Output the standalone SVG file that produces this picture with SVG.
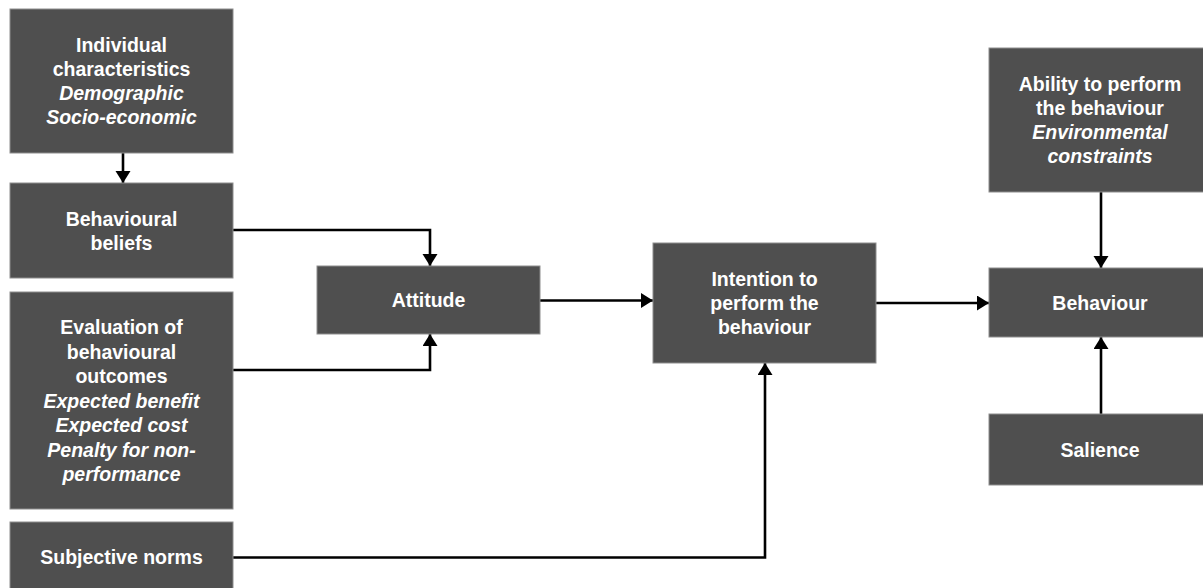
<svg xmlns="http://www.w3.org/2000/svg" width="1203" height="588" viewBox="0 0 1203 588">
<defs>
<style>
.box{fill:#4f4f4f;stroke:#8e8e8e;stroke-width:1}
.t{font-family:"Liberation Sans",Arial,Helvetica,sans-serif;font-size:19.5px;font-weight:bold;fill:#ffffff;text-anchor:middle}
.i{font-style:italic}
.c{fill:none;stroke:#000;stroke-width:2.6}
</style>
<marker id="ah" markerUnits="userSpaceOnUse" markerWidth="14" markerHeight="16" refX="12" refY="7.5" orient="auto" viewBox="0 0 14 16">
<path d="M0,0 L12,7.5 L0,15 z" fill="#000"/>
</marker>
</defs>
<rect width="1203" height="588" fill="#ffffff"/>
<g id="connectors">
<path class="c" d="M123,153 V183" marker-end="url(#ah)"/>
<path class="c" d="M233,230 H430 V266" marker-end="url(#ah)"/>
<path class="c" d="M233,370 H430 V334" marker-end="url(#ah)"/>
<path class="c" d="M540,300.5 H653" marker-end="url(#ah)"/>
<path class="c" d="M876,303 H989" marker-end="url(#ah)"/>
<path class="c" d="M233,557.5 H765 V363" marker-end="url(#ah)"/>
<path class="c" d="M1101,192 V268" marker-end="url(#ah)"/>
<path class="c" d="M1101,414 V337" marker-end="url(#ah)"/>
</g>
<g id="individual">
<rect class="box" x="10" y="9" width="223" height="144"/>
<text class="t" x="121.5" y="52">Individual</text>
<text class="t" x="121.5" y="76">characteristics</text>
<text class="t i" x="121.5" y="100">Demographic</text>
<text class="t i" x="121.5" y="124">Socio-economic</text>
</g>
<g id="beliefs">
<rect class="box" x="10" y="183" width="223" height="95"/>
<text class="t" x="121.5" y="225.5">Behavioural</text>
<text class="t" x="121.5" y="249.5">beliefs</text>
</g>
<g id="evaluation">
<rect class="box" x="10" y="292" width="223" height="217"/>
<text class="t" x="121.5" y="334">Evaluation of</text>
<text class="t" x="121.5" y="358.5">behavioural</text>
<text class="t" x="121.5" y="383">outcomes</text>
<text class="t i" x="121.5" y="407.5">Expected benefit</text>
<text class="t i" x="121.5" y="432">Expected cost</text>
<text class="t i" x="121.5" y="456.5">Penalty for non-</text>
<text class="t i" x="121.5" y="481">performance</text>
</g>
<g id="norms">
<rect class="box" x="10" y="522" width="223" height="72"/>
<text class="t" x="121.5" y="564">Subjective norms</text>
</g>
<g id="attitude">
<rect class="box" x="317" y="266" width="223" height="68"/>
<text class="t" x="428.5" y="307">Attitude</text>
</g>
<g id="intention">
<rect class="box" x="653" y="243" width="223" height="120"/>
<text class="t" x="764.5" y="286">Intention to</text>
<text class="t" x="764.5" y="310">perform the</text>
<text class="t" x="764.5" y="334">behaviour</text>
</g>
<g id="ability">
<rect class="box" x="989" y="48" width="223" height="144"/>
<text class="t" x="1100" y="91">Ability to perform</text>
<text class="t" x="1100" y="115">the behaviour</text>
<text class="t i" x="1100" y="139">Environmental</text>
<text class="t i" x="1100" y="163">constraints</text>
</g>
<g id="behaviour">
<rect class="box" x="989" y="268" width="223" height="69"/>
<text class="t" x="1100" y="309.5">Behaviour</text>
</g>
<g id="salience">
<rect class="box" x="989" y="414" width="223" height="71"/>
<text class="t" x="1100" y="456.5">Salience</text>
</g>
</svg>
